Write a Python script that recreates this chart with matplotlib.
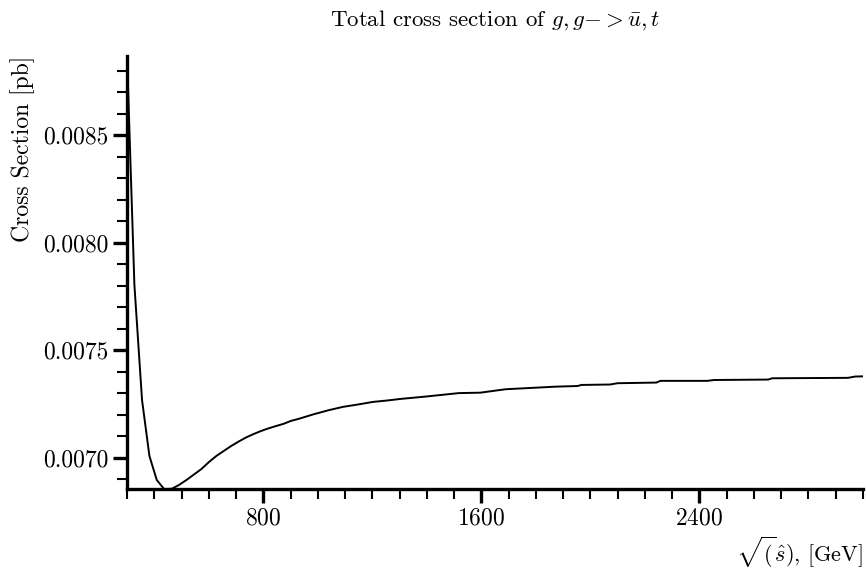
import numpy as np
import matplotlib
matplotlib.use("Agg")
import matplotlib.pyplot as plt
from matplotlib.ticker import MultipleLocator, FormatStrFormatter

# Computer Modern look
plt.rcParams["font.family"] = "serif"
plt.rcParams["font.serif"] = ["cmr10"]
plt.rcParams["mathtext.fontset"] = "cm"
plt.rcParams["axes.formatter.use_mathtext"] = True

# sqrt(s_hat) in GeV and total cross section in pb
energy = [300, 327, 355, 382, 409, 436, 464, 491, 518, 546, 573, 601, 628, 655,
          682, 710, 737, 765, 792, 819, 847, 874, 902, 929, 983, 1038, 1092,
          1147, 1202, 1257, 1304, 1396, 1517, 1596, 1689, 1766, 1872, 1953,
          1967, 2073, 2099, 2242, 2257, 2429, 2454, 2652, 2667, 2945, 2971, 3000]
xsec = [0.008868, 0.007803, 0.007268, 0.007008, 0.006896, 0.006854, 0.006855,
        0.006873, 0.006896, 0.006922, 0.006947, 0.006980, 0.007008, 0.007031,
        0.007054, 0.007075, 0.007094, 0.007110, 0.007124, 0.007136, 0.007147,
        0.007157, 0.007171, 0.007180, 0.007201, 0.007220, 0.007236, 0.007247,
        0.007259, 0.007266, 0.007273, 0.007284, 0.007300, 0.007302, 0.007318,
        0.007323, 0.007330, 0.007333, 0.007338, 0.007340, 0.007346, 0.007349,
        0.007357, 0.007357, 0.007361, 0.007363, 0.007369, 0.007371, 0.007377,
        0.007378]

fig = plt.figure(figsize=(8.66, 5.69), dpi=100)
ax = fig.add_axes([0.1467, 0.1406, 0.8498, 0.7610])

ax.plot(energy, xsec, color="black", linewidth=1.4)
ax.set_xlim(min(energy), max(energy))
ax.set_ylim(min(xsec), max(xsec))

ax.spines["top"].set_visible(False)
ax.spines["right"].set_visible(False)
ax.spines["left"].set_linewidth(2.4)
ax.spines["bottom"].set_linewidth(2.4)

ax.xaxis.set_major_locator(MultipleLocator(800))
ax.xaxis.set_minor_locator(MultipleLocator(100))
ax.yaxis.set_major_locator(MultipleLocator(0.0005))
ax.yaxis.set_minor_locator(MultipleLocator(0.0001))
ax.yaxis.set_major_formatter(FormatStrFormatter("%.4f"))

ax.tick_params(which="major", direction="out", length=10, width=2.4,
               labelsize=17, pad=3)
ax.tick_params(which="minor", direction="out", length=7, width=1.5)

ax.set_title(r"Total cross section of $g, g{-} > \bar{u}, t$", fontsize=16.5, pad=22)
ax.set_ylabel("Cross Section [pb]", fontsize=17, loc="top", labelpad=6)
ax.set_xlabel(r"$\sqrt{(}\hat{s})$, [GeV]", fontsize=16, loc="right", labelpad=4)

fig.savefig("out.png", dpi=100)
